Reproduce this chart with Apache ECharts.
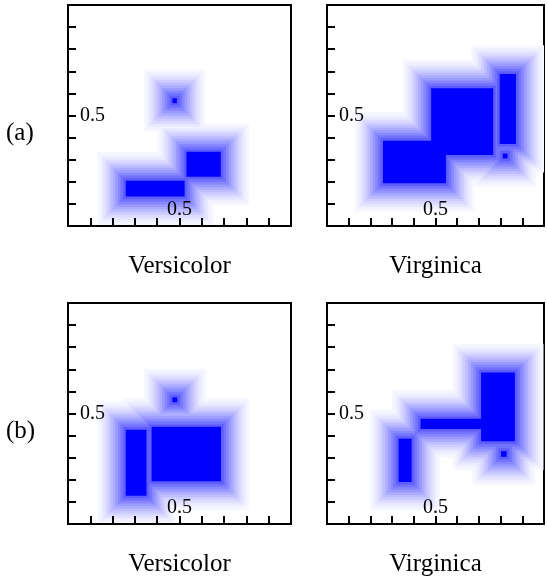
<!DOCTYPE html>
<html>
<head>
<meta charset="utf-8">
<script src="https://cdn.jsdelivr.net/npm/echarts@6/dist/echarts.min.js"></script>
<style>
html,body{margin:0;padding:0;background:#fff}
#chart{width:547px;height:580px}
</style>
</head>
<body>
<div id="chart"></div>
<script>
// hyperboxes of each panel: [xmin, ymin, xmax, ymax]
const versicolorA = [
    [0.468, 0.556, 0.488, 0.578],
    [0.531, 0.223, 0.685, 0.336],
    [0.259, 0.133, 0.523, 0.205]
]
const virginicaA = [
    [0.258, 0.193, 0.548, 0.386],
    [0.480, 0.321, 0.766, 0.623],
    [0.796, 0.371, 0.871, 0.688],
    [0.810, 0.306, 0.832, 0.328]
]
const versicolorB = [
    [0.468, 0.551, 0.490, 0.573],
    [0.259, 0.128, 0.352, 0.427],
    [0.375, 0.193, 0.686, 0.440]
]
const virginicaB = [
    [0.330, 0.190, 0.390, 0.386],
    [0.431, 0.430, 0.713, 0.476],
    [0.710, 0.374, 0.866, 0.686],
    [0.802, 0.304, 0.828, 0.330]
]
const classNames = ['Versicolor', 'Virginica']
const rowNames = ['(a)', '(b)']
const shownTicks = [0.5]

const panels = [versicolorA, virginicaA, versicolorB, virginicaB]
const grids = [
    {left: 68, top: 5, width: 223, height: 221},
    {left: 327, top: 5, width: 222, height: 221},
    {left: 68, top: 303, width: 223, height: 221},
    {left: 327, top: 303, width: 222, height: 221}
]
const LEVELS = 11   // halo bands round each box
const BAND = 2.6    // px per band
const FONT = 'Liberation Serif, Times New Roman, serif'

// one item per (level, box); outer levels first so darker ones end up on top
function haloData(boxes) {
    let out = []
    for (let k = 0; k <= LEVELS; k++) {
        for (let b of boxes) out.push([b[0], b[1], b[2], b[3], k])
    }
    return out
}

function levelColor(k) {
    let t = k === LEVELS ? 1 : 0.03 + 0.6 * Math.pow(k / (LEVELS - 1), 1.4)
    let c = Math.round(255 * (1 - t))
    return 'rgb(' + c + ',' + c + ',255)'
}

function renderBox(params, api) {
    let p0 = api.coord([api.value(0), api.value(1)])
    let p1 = api.coord([api.value(2), api.value(3)])
    let k = api.value(4)
    let pad = (LEVELS - k) * BAND
    let x = Math.min(p0[0], p1[0]) - pad
    let y = Math.min(p0[1], p1[1]) - pad
    return {
        type: 'rect',
        shape: {
            x: x, y: y,
            width: Math.abs(p1[0] - p0[0]) + 2 * pad,
            height: Math.abs(p1[1] - p0[1]) + 2 * pad
        },
        style: {fill: levelColor(k)}
    }
}

function tickFmt(v) {
    return shownTicks.some(t => Math.abs(t - v) < 1e-6) ? v.toFixed(1) : ''
}

let axisCommon = {
    type: 'value', min: 0, max: 1, interval: 0.1,
    z: 10,
    splitLine: {show: false},
    axisLine: {lineStyle: {color: '#000', width: 2}},
    axisTick: {inside: true, length: 8, lineStyle: {color: '#000', width: 2}},
    axisLabel: {inside: true, formatter: tickFmt, color: '#000', fontFamily: FONT, fontSize: 20}
}

let option = {
    animation: false,
    backgroundColor: '#fff',
    grid: grids.map(g => Object.assign({show: true, borderColor: '#000', borderWidth: 2, backgroundColor: 'transparent'}, g)),
    xAxis: grids.map((g, i) => Object.assign({}, axisCommon, {
        gridIndex: i,
        name: classNames[i % 2],
        nameLocation: 'middle',
        nameGap: 28,
        nameTextStyle: {color: '#000', fontFamily: FONT, fontSize: 25},
        axisLabel: Object.assign({}, axisCommon.axisLabel, {margin: 6})
    })),
    yAxis: grids.map((g, i) => Object.assign({}, axisCommon, {
        gridIndex: i,
        axisLabel: Object.assign({}, axisCommon.axisLabel, {margin: 12})
    })),
    series: panels.map((boxes, i) => ({
        type: 'custom',
        xAxisIndex: i,
        yAxisIndex: i,
        z: 2,
        clip: true,
        silent: true,
        encode: {x: [0, 2], y: [1, 3]},
        renderItem: renderBox,
        data: haloData(boxes)
    })),
    graphic: rowNames.map((name, r) => ({
        type: 'text',
        left: 6,
        top: grids[r * 2].top + 116,
        style: {text: name, fill: '#000', font: '25px ' + FONT}
    }))
}

let chart = echarts.init(document.getElementById('chart'))
chart.setOption(option)
</script>
</body>
</html>
